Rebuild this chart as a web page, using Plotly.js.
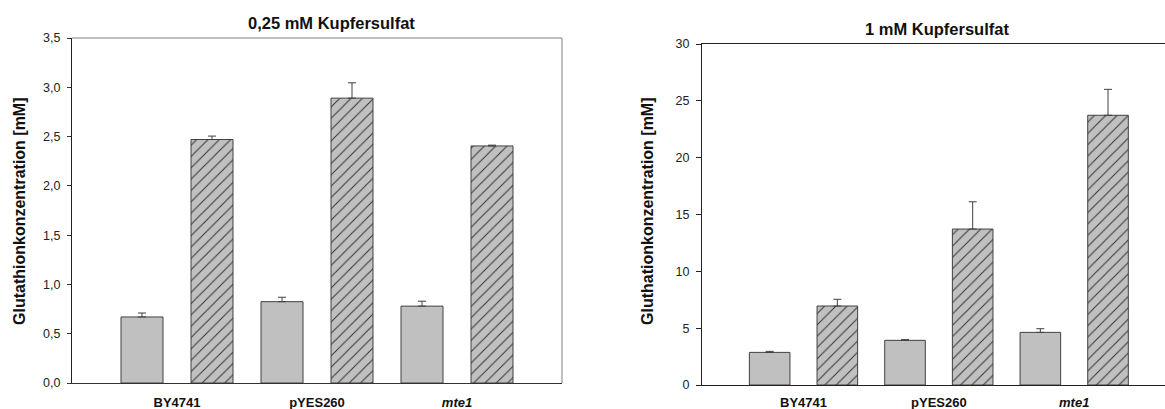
<!DOCTYPE html>
<html>
<head>
<meta charset="utf-8">
<script src="https://cdn.plot.ly/plotly-3.0.1.min.js"></script>
<style>html,body{margin:0;padding:0;background:#fff;}#chart{width:1165px;height:409px;}</style>
</head>
<body>
<div id="chart"></div>
<script>
var categories = ['BY4741', 'pYES260', 'mte1'];
var tickLabels = ['BY4741', 'pYES260', '<i>mte1</i>'];

// 0,25 mM Kupfersulfat
var low_ctrl = [0.67, 0.825, 0.78];
var low_ctrl_err = [0.04, 0.045, 0.05];
var low_cu = [2.47, 2.89, 2.405];
var low_cu_err = [0.035, 0.155, 0.008];

// 1 mM Kupfersulfat
var high_ctrl = [2.87, 3.93, 4.63];
var high_ctrl_err = [0.09, 0.06, 0.32];
var high_cu = [6.95, 13.72, 23.73];
var high_cu_err = [0.59, 2.4, 2.28];

var titleLeft = '0,25 mM Kupfersulfat';
var titleRight = '1 mM Kupfersulfat';
var yTitleLeft = 'Glutathionkonzentration [mM]';
var yTitleRight = 'Gluthationkonzentration [mM]';

var lineCol = '#404040';
var fillCol = '#c0c0c0';
var FONT = 'Liberation Sans, Arial, sans-serif';

function bar(x, y, err, xa, ya, hatched, offset) {
  return {
    type: 'bar', x: x, y: y, xaxis: xa, yaxis: ya,
    width: 0.3, offset: offset,
    marker: {
      color: fillCol,
      line: {color: lineCol, width: 1},
      pattern: hatched ? {shape: '/', fgcolor: '#303030', bgcolor: fillCol, size: 8, solidity: 0.12} : {shape: ''}
    },
    error_y: {type: 'data', array: err, arrayminus: err.map(function(){return 0;}), symmetric: false,
              color: lineCol, thickness: 1, width: 4},
    hoverinfo: 'none', showlegend: false
  };
}

var data = [
  bar(categories, low_ctrl, low_ctrl_err, 'x', 'y', false, -0.4),
  bar(categories, low_cu, low_cu_err, 'x', 'y', true, 0.1),
  bar(categories, high_ctrl, high_ctrl_err, 'x2', 'y2', false, -0.4),
  bar(categories, high_cu, high_cu_err, 'x2', 'y2', true, 0.1)
];

var W = 1165, H = 409;
var tickFont = {family: FONT, size: 12.5, color: '#222'};
var catFont = {family: FONT, size: 13, color: '#111', weight: 'bold'};
var titleFont = {family: FONT, size: 16.5, color: '#111', weight: 'bold'};
var yTitleFont = {family: FONT, size: 16, color: '#111', weight: 'bold'};

var layout = {
  width: W, height: H,
  margin: {l: 0, r: 0, t: 0, b: 0},
  paper_bgcolor: '#fff', plot_bgcolor: '#fff',
  separators: ',.',
  showlegend: false,
  xaxis: {
    domain: [72 / W, 562 / W], anchor: 'y', type: 'category',
    range: [-0.75, 2.75], tickvals: categories, ticktext: tickLabels,
    showline: true, linecolor: '#333', linewidth: 1,
    ticks: '', showgrid: false, zeroline: false, tickfont: catFont, ticklabelstandoff: 7
  },
  yaxis: {
    domain: [1 - 383 / H, 1 - 38 / H], anchor: 'x',
    range: [0, 3.5], dtick: 0.5, tick0: 0, tickformat: '.1f',
    showline: true, linecolor: '#222', linewidth: 1,
    ticks: 'outside', ticklen: 4, tickcolor: '#333', showgrid: false, zeroline: false,
    tickfont: tickFont, ticklabelstandoff: 4
  },
  xaxis2: {
    domain: [702 / W, 1], anchor: 'y2', type: 'category',
    range: [-0.75, 2.671], tickvals: categories, ticktext: tickLabels,
    showline: true, linecolor: '#222', linewidth: 1, mirror: true,
    ticks: '', showgrid: false, zeroline: false, tickfont: catFont, ticklabelstandoff: 5
  },
  yaxis2: {
    domain: [1 - 385 / H, 1 - 44 / H], anchor: 'x2',
    range: [0, 30], dtick: 5, tick0: 0,
    showline: true, linecolor: '#222', linewidth: 1,
    ticks: 'outside', ticklen: 5, tickcolor: '#222', showgrid: false, zeroline: false,
    tickfont: tickFont, ticklabelstandoff: 4
  },
  shapes: [
    {type: 'line', xref: 'x domain', yref: 'y domain', x0: 0, x1: 1, y0: 1, y1: 1, line: {color: '#808080', width: 1}},
    {type: 'line', xref: 'x domain', yref: 'y domain', x0: 1, x1: 1, y0: 0, y1: 1, line: {color: '#808080', width: 1}}
  ],
  annotations: [
    {text: titleLeft, xref: 'paper', yref: 'paper', x: 331 / W, y: 1 - 23 / H, xanchor: 'center', yanchor: 'middle',
     showarrow: false, font: titleFont},
    {text: titleRight, xref: 'paper', yref: 'paper', x: 937 / W, y: 1 - 29 / H, xanchor: 'center', yanchor: 'middle',
     showarrow: false, font: titleFont},
    {text: yTitleLeft, xref: 'paper', yref: 'paper', x: 19 / W, y: 1 - 211 / H, xanchor: 'center', yanchor: 'middle',
     textangle: -90, showarrow: false, font: yTitleFont},
    {text: yTitleRight, xref: 'paper', yref: 'paper', x: 647 / W, y: 1 - 211 / H, xanchor: 'center', yanchor: 'middle',
     textangle: -90, showarrow: false, font: yTitleFont}
  ]
};

Plotly.newPlot('chart', data, layout, {staticPlot: true, displayModeBar: false});
</script>
</body>
</html>
